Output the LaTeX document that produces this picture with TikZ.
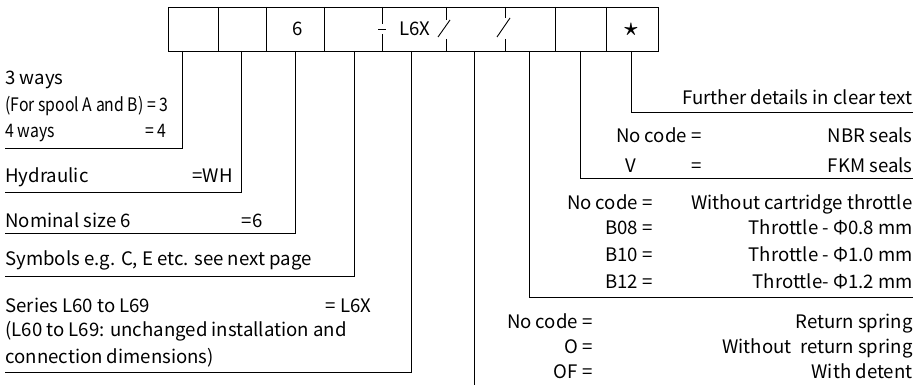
\documentclass[tikz,border=0pt]{standalone}
\usepackage{bm}
\usepackage{fontspec}
\setmainfont{Noto Sans CJK SC}
\usetikzlibrary{positioning}
\tikzset{font=\fontsize{18.6}{22}\selectfont}
\tikzset{every node/.append style={inner sep=0pt}}
\tikzset{lbl/.style={anchor=base west}, rgt/.style={anchor=base east}}
\newcommand{\narrowtxt}[1]{\scalebox{0.85}[1]{#1}}

\begin{document}
\begin{tikzpicture}[x=1pt,y=-1pt,line width=0.9pt]
\useasboundingbox (0,0) rectangle (922,385);
  % code boxes
  \draw (168,7) rectangle (658,51);
  \foreach \x in {218,266,324,555,606}{
               \draw (\x,7)--(\x,51);
};
  \draw (382,7)--(382,24);
  \draw (382,34)--(382,51);
  \draw (446,7)--(446,20);
  \draw (446,39)--(446,51);
  \draw (505,7)--(505,18);
  \draw (505,39)--(505,51);
  \draw (378,29)--(386,29);
  \draw (438,37)--(450,20);
  \draw (497,37)--(510,18);
  \node (size) at (298,29) {6};
  \node (series) at (415,29) {L6X};
  \node[font=\fontsize{30}{30}\selectfont] (more) at (631,30) {$\bm{\star}$};

  % leader points
  \coordinate (ways) at (182,51);
  \coordinate (hyd) at (241.7,51);
  \coordinate (nom) at (295,51);
  \coordinate (sym) at (354,51);
  \coordinate (ser) at (411,51);
  \coordinate (ret) at (474,51);
  \coordinate (thr) at (529,51);
  \coordinate (seal) at (580,51);
  \coordinate (det) at (631,51);
  \coordinate (waysL) at (5,148);
  \coordinate (hydL) at (5,192);
  \coordinate (nomL) at (5,233);
  \coordinate (symL) at (5,276);
  \coordinate (serL) at (5,372);
  \coordinate (retE) at (474,386);
  \coordinate (thrR) at (913,297);
  \coordinate (sealR) at (913,178);
  \coordinate (detR) at (913,112);

  \draw (ways) |- (waysL);
  \draw (hyd) |- (hydL);
  \draw (nom) |- (nomL);
  \draw (sym) |- (symL);
  \draw (ser) |- (serL);
  \draw (ret) -- (retE);
  \draw (thr) |- (thrR);
  \draw (seal) |- (sealR);
  \draw (det) |- (detR);

  % left texts
  \node[lbl] (way3) at (5,85) {3 ways};
  \node[lbl] (spool) at (5,111.7) {\narrowtxt{(For spool A and B) = 3}};
  \node[lbl] (way4) at (5,138) {\narrowtxt{4 ways}};
  \node[rgt] (way4c) at (167,138) {\narrowtxt{= 4}};
  \node[lbl] (hydT) at (5,183) {Hydraulic};
  \node[rgt] (hydC) at (233,183) {=WH};
  \node[lbl] (nomT) at (5,228) {Nominal size 6};
  \node[rgt] (nomC) at (263,228) {=6};
  \node[lbl] (symT) at (5,265.7) {Symbols e.g. C, E etc. see next page};
  \node[lbl] (serT) at (5,312) {Series L60 to L69};
  \node[rgt] (serC) at (372,312) {= L6X};
  \node[lbl] (serT2) at (5,336.7) {(L60 to L69: unchanged installation and};
  \node[lbl] (serT3) at (5,363) {connection dimensions)};

  % right texts
  \node[rgt] (detT) at (913,105) {Further details in clear text};
  \node[rgt] (nbrC) at (702,143) {No code =};
  \node[rgt] (nbrT) at (913,143) {NBR seals};
  \node[anchor=base] (fkmC) at (631,173) {V};
  \node[rgt] (fkmEq) at (702,173) {=};
  \node[rgt] (fkmT) at (913,173) {FKM seals};
  \node[rgt] (thr0C) at (653,209.5) {No code =};
  \node[rgt] (thr0T) at (913,209.5) {Without cartridge throttle};
  \node[rgt] (thr8C) at (653,235) {B08 =};
  \node[rgt] (thr8T) at (913,235) {Throttle - Φ0.8 mm};
  \node[rgt] (thr10C) at (653,261.7) {B10 =};
  \node[rgt] (thr10T) at (913,261.7) {Throttle - Φ1.0 mm};
  \node[rgt] (thr12C) at (653,288.3) {B12 =};
  \node[rgt] (thr12T) at (913,288.3) {Throttle- Φ1.2 mm};
  \node[rgt] (ret0C) at (593,328.3) {No code =};
  \node[rgt] (ret0T) at (913,328.3) {Return spring};
  \node[rgt] (retOC) at (593,353.3) {O =};
  \node[rgt] (retOT) at (913,353.3) {Without~ return spring};
  \node[rgt] (retFC) at (593,378.3) {OF =};
  \node[rgt] (retFT) at (913,378.3) {With detent};
\end{tikzpicture}
\end{document}
